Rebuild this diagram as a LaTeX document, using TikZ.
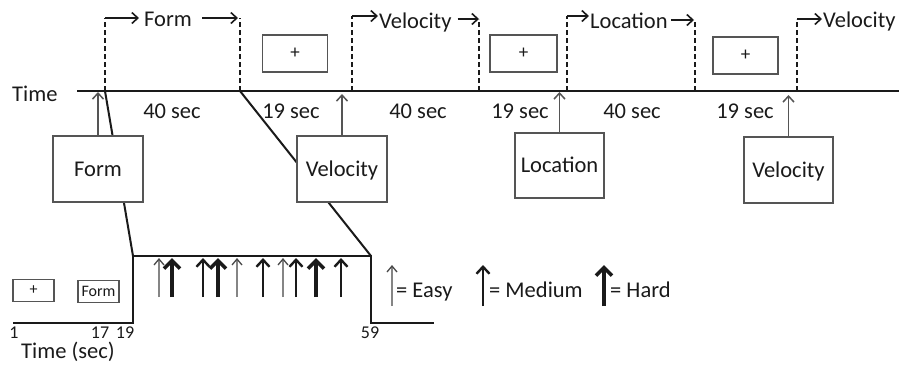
\documentclass[tikz,border=0pt]{standalone}
\usepackage{fontspec}
\setmainfont{Carlito}
\usetikzlibrary{arrows.meta}
\definecolor{ink}{HTML}{1A1A1A}
\definecolor{boxgray}{HTML}{555555}
\definecolor{easygray}{HTML}{858585}
\begin{document}
\begin{tikzpicture}[x=1pt,y=-1pt,
  font=\fontsize{22.5}{26}\selectfont,
  every node/.style={text=ink},
  tline/.style={draw=ink,line width=2pt},
  dline/.style={draw=ink,line width=2pt,dash pattern=on 5pt off 3pt},
  harr/.style={draw=ink,line width=1.6pt,-{Straight Barb[length=6pt,width=11pt]}},
  catbox/.style={draw=boxgray,line width=1.3pt,fill=white,minimum width=90pt,minimum height=66pt,text height=14.5pt,text depth=0pt,inner sep=0pt},
  fixbox/.style={draw=boxgray,line width=1.3pt,fill=white,minimum width=65pt,minimum height=37pt,inner sep=0pt,font=\fontsize{19}{21}\selectfont},
  smallbox/.style={draw=boxgray,line width=1.3pt,fill=white,minimum width=41pt,minimum height=22pt,inner sep=0pt,font=\fontsize{16}{18}\selectfont},
  uparr/.style={draw=boxgray,line width=1.5pt,-{Straight Barb[length=6pt,width=11pt]}},
  zline/.style={draw=ink,line width=2pt},
  easy/.style={draw=easygray,line width=1.3pt,-{Straight Barb[length=6pt,width=10pt,color=ink!80,line width=1.3pt]}},
  medium/.style={draw=ink,line width=2.4pt,-{Straight Barb[length=7pt,width=13pt]}},
  hard/.style={draw=ink,line width=3.6pt,-{Straight Barb[length=8pt,width=16pt]}},
  num/.style={anchor=base,inner sep=0pt,font=\fontsize{18}{20}\selectfont},
  lbl/.style={anchor=base west,inner sep=0pt}
]
\useasboundingbox (0,0) rectangle (899,368);

% time line
\node[lbl] (timelbl) at (12,101) {Time};
\coordinate (t0) at (77,91);
\coordinate (t1) at (899,91);
\draw[tline] (t0) -- (t1);

% dashed markers on the time line
\coordinate (a1b) at (105,91); \coordinate (a1) at (105,18);
\coordinate (b1b) at (240,91); \coordinate (b1) at (240,18);
\coordinate (a2b) at (352,91); \coordinate (a2) at (352,16);
\coordinate (b2b) at (479,91); \coordinate (b2) at (479,19);
\coordinate (a3b) at (567,91); \coordinate (a3) at (567,16);
\coordinate (b3b) at (695,91); \coordinate (b3) at (695,20);
\coordinate (a4b) at (797,91); \coordinate (a4) at (797,19);
\foreach \p in {a1,b1,a2,b2,a3,b3,a4} {\draw[dline] (\p b) -- (\p);}

% header labels
\node[lbl] (h1) at (144,26) {Form};
\node[lbl] (h2) at (379,28) {Velocity};
\node[lbl] (h3) at (590,28) {Location};
\node[lbl] (h4) at (823,27) {Velocity};
\draw[harr] (a1) -- (a1 -| h1.west) [shorten >=5pt];
\draw[harr] (h1.east |- b1) -- (b1) [shorten <=10pt, shorten >=2pt];
\draw[harr] (a2) -- (a2 -| h2.west) [shorten >=1pt];
\draw[harr] (h2.east |- b2) -- (b2) [shorten <=6pt];
\draw[harr] (a3) -- (a3 -| h3.west) [shorten >=1pt];
\draw[harr] (h3.east |- b3) -- (b3) [shorten <=3pt, shorten >=1pt];
\draw[harr] (a4) -- (a4 -| h4.west) [shorten >=1pt];

% fixation boxes
\node[fixbox] (fix1) at (295,53.5) {+};
\node[fixbox,minimum width=67pt] (fix2) at (523.5,53.5) {+};
\node[fixbox] (fix3) at (745.5,55.5) {+};

% duration labels
\node[anchor=base] (s1) at (172,118) {40 sec};
\node[anchor=base] (s2) at (291,118) {19 sec};
\node[anchor=base] (s3) at (418,118) {40 sec};
\node[anchor=base] (s4) at (520,118) {19 sec};
\node[anchor=base] (s5) at (632,118) {40 sec};
\node[anchor=base] (s6) at (745,118) {19 sec};

% zoom lines (behind boxes)
\coordinate (zl) at (133,256);
\coordinate (zr) at (371,256);
\draw[zline] (a1b) -- (zl);
\draw[zline] (b1b) -- (zr);

% category boxes
\node[catbox] (formbox) at (98,169) {Form};
\node[catbox] (vel1box) at (342,169) {Velocity};
\node[catbox,minimum width=89pt,minimum height=65pt] (locbox) at (559.5,165.5) {Location};
\node[catbox,minimum width=89pt] (vel2box) at (788.5,170) {Velocity};

% arrows from boxes up to time line
\coordinate (u1) at (98,92);
\coordinate (u2) at (342,94);
\coordinate (u3) at (559.5,92);
\coordinate (u4) at (788.5,95);
\draw[uparr] (formbox.north) -- (u1);
\draw[uparr] (vel1box.north) -- (u2);
\draw[uparr] (locbox.north) -- (u3);
\draw[uparr] (vel2box.north) -- (u4);

% lower trial timeline
\coordinate (l0) at (13,323);
\coordinate (l1) at (133,323);
\coordinate (r1) at (371,323);
\coordinate (r2) at (434,323);
\draw[tline,line join=miter] (l0) -- (l1) -- (zl) -- (zr) -- (r1) -- (r2);

\node[smallbox] (pfix) at (33.5,290.5) {+};
\node[smallbox] (pform) at (98.5,291.5) {Form};

\node[num] (n1) at (14,338) {1};
\node[num] (n17) at (100,338) {17};
\node[num] (n19) at (125,338) {19};
\node[num] (n59) at (370,338) {59};
\node[lbl] (tsec) at (21,358) {Time (sec)};

% probe arrows
\foreach \x/\k [count=\i] in {159/easy,172/hard,203/medium,218/hard,237/easy,263/medium,283/easy,296/medium,316/hard,341/medium} {
  \coordinate (pb\i) at (\x,297);
  \coordinate (pt\i) at (\x,258);
  \draw[\k] (pb\i) -- (pt\i);
}

% legend
\coordinate (e1) at (392,306); \coordinate (e1t) at (392,265);
\coordinate (e2) at (483,306); \coordinate (e2t) at (483,265);
\coordinate (e3) at (604,306); \coordinate (e3t) at (604,265);
\draw[easy] (e1) -- (e1t);
\draw[medium] (e2) -- (e2t);
\draw[hard] (e3) -- (e3t);
\node[lbl] (le1) at (396,297) {= Easy};
\node[lbl] (le2) at (489,297) {= Medium};
\node[lbl] (le3) at (610,297) {= Hard};
\end{tikzpicture}
\end{document}
